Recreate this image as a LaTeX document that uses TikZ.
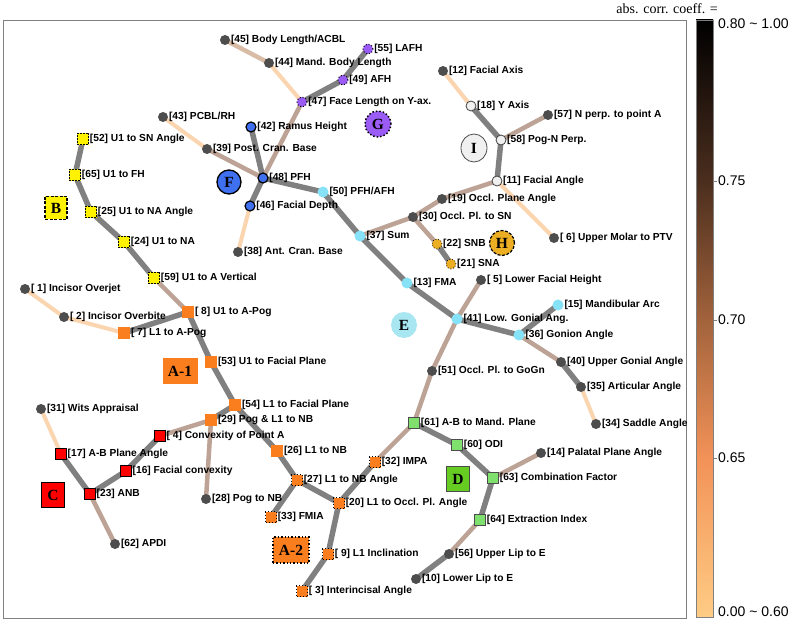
\documentclass[tikz,border=0pt]{standalone}
\usepackage{fontspec}
\setmainfont{Liberation Serif}
\setsansfont{Liberation Sans}
\usetikzlibrary{backgrounds,shapes.geometric}
\definecolor{nodegray}{HTML}{4D4D4D}
\definecolor{edgegray}{HTML}{808080}
\definecolor{edgetan}{HTML}{BCA395}
\definecolor{edgelight}{HTML}{D9BCA6}
\definecolor{edgepeach}{HTML}{FAD5B0}
\definecolor{fblue}{HTML}{3F70F0}
\definecolor{gpurple}{HTML}{9B5CF5}
\definecolor{ecyan}{HTML}{86E2F7}
\definecolor{ecyanbig}{HTML}{A8E6F2}
\definecolor{hgold}{HTML}{ECAE22}
\definecolor{iwhite}{HTML}{F0F0F0}
\definecolor{aorange}{HTML}{FA7D1E}
\definecolor{dgreen}{HTML}{7FE06E}
\definecolor{dgreenbig}{HTML}{66CC22}
\definecolor{cbA}{HTML}{000000}
\definecolor{cbB}{HTML}{4B2E1E}
\definecolor{cbC}{HTML}{A2633C}
\definecolor{cbD}{HTML}{F29258}
\definecolor{cbE}{HTML}{FECC84}
\tikzset{
  dk/.style={circle,fill=nodegray,minimum size=10pt,inner sep=0pt},
  fnode/.style={circle,fill=fblue,draw=black,line width=1.2pt,minimum size=10pt,inner sep=0pt},
  gnode/.style={circle,fill=gpurple,draw=black,dotted,line width=1pt,minimum size=10pt,inner sep=0pt},
  enode/.style={circle,fill=ecyan,minimum size=11pt,inner sep=0pt},
  hnode/.style={circle,fill=hgold,draw=black,dotted,line width=0.8pt,minimum size=10pt,inner sep=0pt},
  inode/.style={circle,fill=iwhite,draw=black!75,line width=0.8pt,minimum size=10pt,inner sep=0pt},
  bnode/.style={rectangle,fill=yellow,draw=black,dashed,dash pattern=on 2pt off 1pt,line width=0.8pt,minimum size=11.5pt,inner sep=0pt},
  anode/.style={rectangle,fill=aorange,minimum size=12pt,inner sep=0pt},
  aanode/.style={anode,draw=black,dotted,line width=1pt,minimum size=11pt},
  cnode/.style={rectangle,fill=red,draw=black,line width=1.3pt,minimum size=10.5pt,inner sep=0pt},
  dnode/.style={rectangle,fill=dgreen,draw=black!70,line width=0.7pt,minimum size=11.5pt,inner sep=0pt},
  grp/.style={font=\bfseries\fontsize{15.5}{15.5}\selectfont,inner sep=0pt},
  gedge/.style={line width=5.5pt,edgegray},
  tedge/.style={line width=4.5pt,edgetan},
  ledge/.style={line width=4.5pt,edgelight},
  pedge/.style={line width=4pt,edgepeach},
}
\begin{document}
\begin{tikzpicture}[x=1pt,y=-1pt,
  every label/.style={font=\sffamily\bfseries\fontsize{10.2}{12}\selectfont,inner sep=0.6pt}]
\useasboundingbox (0,0) rectangle (793,628);
\draw[edgegray,line width=0.8pt] (3.5,20) rectangle (686,618);

\node[dk,label=right:{[45] Body Length/ACBL}] (n45) at (225,40) {};
\node[dk,label=right:{[44] Mand. Body Length}] (n44) at (269,63) {};
\node[dk,label=right:{[43] PCBL/RH}] (n43) at (163,117) {};
\node[dk,label=right:{[39] Post. Cran. Base}] (n39) at (207,149) {};
\node[dk,label=right:{[38] Ant. Cran. Base}] (n38) at (238,252) {};
\node[dk,label=right:{[12] Facial Axis}] (n12) at (443,71) {};
\node[dk,label=right:{[57] N perp. to point A}] (n57) at (548,115) {};
\node[dk,label=right:{[19] Occl. Plane Angle}] (n19) at (442,199) {};
\node[dk,label=right:{[30] Occl. Pl. to SN}] (n30) at (413,217) {};
\node[dk,label=right:{[\ 6] Upper Molar to PTV}] (n6) at (554,238) {};
\node[dk,label=right:{[\ 5] Lower Facial Height}] (n5) at (481,280) {};
\node[dk,label=right:{[40] Upper Gonial Angle}] (n40) at (561,362) {};
\node[dk,label=right:{[35] Articular Angle}] (n35) at (581,387) {};
\node[dk,label=right:{[34] Saddle Angle}] (n34) at (596,424) {};
\node[dk,label=right:{[51] Occl. Pl. to GoGn}] (n51) at (432,371) {};
\node[dk,label=right:{[14] Palatal Plane Angle}] (n14) at (541,453) {};
\node[dk,label=right:{[56] Upper Lip to E}] (n56) at (449,554) {};
\node[dk,label=right:{[10] Lower Lip to E}] (n10) at (416,579) {};
\node[dk,label=right:{[\ 1] Incisor Overjet}] (n1) at (25,289) {};
\node[dk,label=right:{[\ 2] Incisor Overbite}] (n2) at (64,317) {};
\node[dk,label=right:{[31] Wits Appraisal}] (n31) at (41,409) {};
\node[dk,label=right:{[62] APDI}] (n62) at (115,544) {};
\node[dk,label=right:{[28] Pog to NB}] (n28) at (206,499) {};

\node[gnode,label=right:{[55] LAFH}] (n55) at (368,49) {};
\node[gnode,label=right:{[49] AFH}] (n49) at (343,80) {};
\node[gnode,label=right:{[47] Face Length on Y-ax.}] (n47) at (302,102) {};

\node[fnode,label=right:{[42] Ramus Height}] (n42) at (251,127) {};
\node[fnode,label=right:{[48] PFH}] (n48) at (263,178) {};
\node[fnode,label=right:{[46] Facial Depth}] (n46) at (250,206) {};

\node[enode,label=right:{[50] PFH/AFH}] (n50) at (323,192) {};
\node[enode,label=right:{[37] Sum}] (n37) at (360,236) {};
\node[enode,label=right:{[13] FMA}] (n13) at (407,283) {};
\node[enode,label=right:{[41] Low. Gonial Ang.}] (n41) at (457,319) {};
\node[enode,label=right:{[15] Mandibular Arc}] (n15) at (558,305) {};
\node[enode,label=right:{[36] Gonion Angle}] (n36) at (519,335) {};

\node[inode,label=right:{[18] Y Axis}] (n18) at (471,106) {};
\node[inode,label=right:{[58] Pog-N Perp.}] (n58) at (501,140) {};
\node[inode,label=right:{[11] Facial Angle}] (n11) at (497,181) {};

\node[hnode,label=right:{[22] SNB}] (n22) at (437,244) {};
\node[hnode,label=right:{[21] SNA}] (n21) at (451,264) {};

\node[bnode,label=right:{[52] U1 to SN Angle}] (n52) at (83,139) {};
\node[bnode,label=right:{[65] U1 to FH}] (n65) at (75,175) {};
\node[bnode,label=right:{[25] U1 to NA Angle}] (n25) at (91,212) {};
\node[bnode,label=right:{[24] U1 to NA}] (n24) at (124,242) {};
\node[bnode,label=right:{[59] U1 to A Vertical}] (n59) at (154,278) {};

\node[anode,label=right:{[\ 8] U1 to A-Pog}] (n8) at (188,312) {};
\node[anode,label=right:{[\ 7] L1 to A-Pog}] (n7) at (124,333) {};
\node[anode,label=right:{[53] U1 to Facial Plane}] (n53) at (211,362) {};
\node[anode,label=right:{[54] L1 to Facial Plane}] (n54) at (235,405) {};
\node[anode,label=right:{[29] Pog \& L1 to NB}] (n29) at (211,420) {};
\node[anode,label=right:{[26] L1 to NB}] (n26) at (277,451) {};

\node[aanode,label=right:{[27] L1 to NB Angle}] (n27) at (297,480) {};
\node[aanode,label=right:{[20] L1 to Occl. Pl. Angle}] (n20) at (339,503) {};
\node[aanode,label=right:{[33] FMIA}] (n33) at (271,517) {};
\node[aanode,label=right:{[32] IMPA}] (n32) at (375,462) {};
\node[aanode,label=right:{[\ 9] L1 Inclination}] (n9) at (328,554) {};
\node[aanode,label=right:{[\ 3] Interincisal Angle}] (n3) at (302,591) {};

\node[cnode,label=right:{[\ 4] Convexity of Point A}] (n4) at (160,436) {};
\node[cnode,label=right:{[17] A-B Plane Angle}] (n17) at (61,454) {};
\node[cnode,label=right:{[16] Facial convexity}] (n16) at (126,471) {};
\node[cnode,label=right:{[23] ANB}] (n23) at (90,494) {};

\node[dnode,label=right:{[61] A-B to Mand. Plane}] (n61) at (414,423) {};
\node[dnode,label=right:{[60] ODI}] (n60) at (457,445) {};
\node[dnode,label=right:{[63] Combination Factor}] (n63) at (493,478) {};
\node[dnode,label=right:{[64] Extraction Index}] (n64) at (480,520) {};

\node[grp,rectangle,fill=aorange,minimum width=35pt,minimum height=26pt] (gA1) at (180,371) {A-1};
\node[grp,rectangle,fill=aorange,draw=black,dotted,line width=1.4pt,minimum width=36pt,minimum height=26pt] (gA2) at (291,550) {A-2};
\node[grp,rectangle,fill=yellow,draw=black,dashed,dash pattern=on 3pt off 1.5pt,line width=1.2pt,minimum width=22pt,minimum height=23pt] (gB) at (56,208) {B};
\node[grp,rectangle,fill=red,draw=black,line width=1.3pt,minimum width=23pt,minimum height=25pt] (gC) at (53,495) {C};
\node[grp,rectangle,fill=dgreenbig,draw=black!70,line width=0.8pt,minimum width=23pt,minimum height=25pt] (gD) at (458,479) {D};
\node[grp,circle,fill=ecyanbig,minimum size=26pt] (gE) at (404,325) {E};
\node[grp,circle,fill=fblue,draw=black,line width=1.3pt,minimum size=24pt] (gF) at (229,182) {F};
\node[grp,circle,fill=gpurple,draw=black,dotted,line width=1.5pt,minimum size=26pt] (gG) at (378,124) {G};
\node[grp,circle,fill=hgold,draw=black,dashed,dash pattern=on 3pt off 1.5pt,line width=1.2pt,minimum size=25pt] (gH) at (502,243) {H};
\node[grp,ellipse,fill=iwhite,draw=black!70,line width=0.8pt,minimum width=26pt,minimum height=28pt] (gI) at (474,148) {I};

\begin{scope}[on background layer]
\fill[white] (0,0) rectangle (793,628);
\draw[ledge] (n45.center) -- (n44.center);
\draw[pedge] (n44.center) -- (n47.center);
\draw[gedge] (n55.center) -- (n49.center) -- (n47.center);
\draw[tedge] (n47.center) -- (n48.center);
\draw[gedge] (n42.center) -- (n48.center) -- (n46.center);
\draw[tedge] (n39.center) -- (n48.center);
\draw[pedge] (n43.center) -- (n39.center);
\draw[pedge] (n46.center) -- (n38.center);
\draw[gedge] (n48.center) -- (n50.center) -- (n37.center) -- (n13.center) -- (n41.center);
\draw[tedge] (n37.center) -- (n30.center) -- (n19.center) -- (n11.center);
\draw[tedge] (n30.center) -- (n22.center);
\draw[gedge] (n22.center) -- (n21.center);
\draw[gedge] (n11.center) -- (n58.center) -- (n18.center);
\draw[pedge] (n18.center) -- (n12.center);
\draw[tedge] (n58.center) -- (n57.center);
\draw[pedge] (n11.center) -- (n6.center);
\draw[tedge] (n41.center) -- (n5.center);
\draw[gedge] (n41.center) -- (n36.center) -- (n15.center);
\draw[tedge] (n36.center) -- (n40.center);
\draw[gedge] (n40.center) -- (n35.center);
\draw[pedge] (n35.center) -- (n34.center);
\draw[tedge] (n41.center) -- (n51.center) -- (n61.center);
\draw[tedge] (n32.center) -- (n61.center);
\draw[gedge] (n61.center) -- (n60.center) -- (n63.center) -- (n64.center);
\draw[tedge] (n63.center) -- (n14.center);
\draw[tedge] (n64.center) -- (n56.center);
\draw[gedge] (n56.center) -- (n10.center);
\draw[gedge] (n52.center) -- (n65.center) -- (n25.center) -- (n24.center) -- (n59.center);
\draw[tedge] (n59.center) -- (n8.center);
\draw[gedge] (n7.center) -- (n8.center) -- (n53.center) -- (n54.center) -- (n26.center) -- (n27.center) -- (n20.center) -- (n32.center);
\draw[gedge] (n54.center) -- (n29.center);
\draw[gedge] (n27.center) -- (n33.center);
\draw[gedge] (n20.center) -- (n9.center) -- (n3.center);
\draw[pedge] (n7.center) -- (n2.center) -- (n1.center);
\draw[tedge] (n4.center) -- (n29.center) -- (n28.center);
\draw[gedge] (n4.center) -- (n16.center) -- (n23.center) -- (n17.center);
\draw[pedge] (n17.center) -- (n31.center);
\draw[tedge] (n23.center) -- (n62.center);
\end{scope}

\shade[top color=cbA,bottom color=cbB] (696,20) rectangle (713,181);
\shade[top color=cbB,bottom color=cbC] (696,181) rectangle (713,320);
\shade[top color=cbC,bottom color=cbD] (696,320) rectangle (713,458);
\shade[top color=cbD,bottom color=cbE] (696,458) rectangle (713,617);
\draw[edgegray,line width=0.6pt] (696,20) rectangle (713,617);
\foreach \ty in {181,320,458} \draw[edgegray,line width=0.6pt] (713,\ty) -- (717,\ty);
\node[font=\sffamily\fontsize{14}{14}\selectfont,anchor=west,inner sep=0pt] (t80) at (718,24) {0.80 \textasciitilde{} 1.00};
\node[font=\sffamily\fontsize{14}{14}\selectfont,anchor=west,inner sep=0pt] (t75) at (718,181) {0.75};
\node[font=\sffamily\fontsize{14}{14}\selectfont,anchor=west,inner sep=0pt] (t70) at (718,320) {0.70};
\node[font=\sffamily\fontsize{14}{14}\selectfont,anchor=west,inner sep=0pt] (t65) at (718,458) {0.65};
\node[font=\sffamily\fontsize{14}{14}\selectfont,anchor=west,inner sep=0pt] (t60) at (718,612) {0.00 \textasciitilde{} 0.60};
\node[font=\fontsize{14}{14}\selectfont,anchor=east,inner sep=0pt] (ttl) at (718,9) {abs. corr. coeff. =};
\end{tikzpicture}
\end{document}
